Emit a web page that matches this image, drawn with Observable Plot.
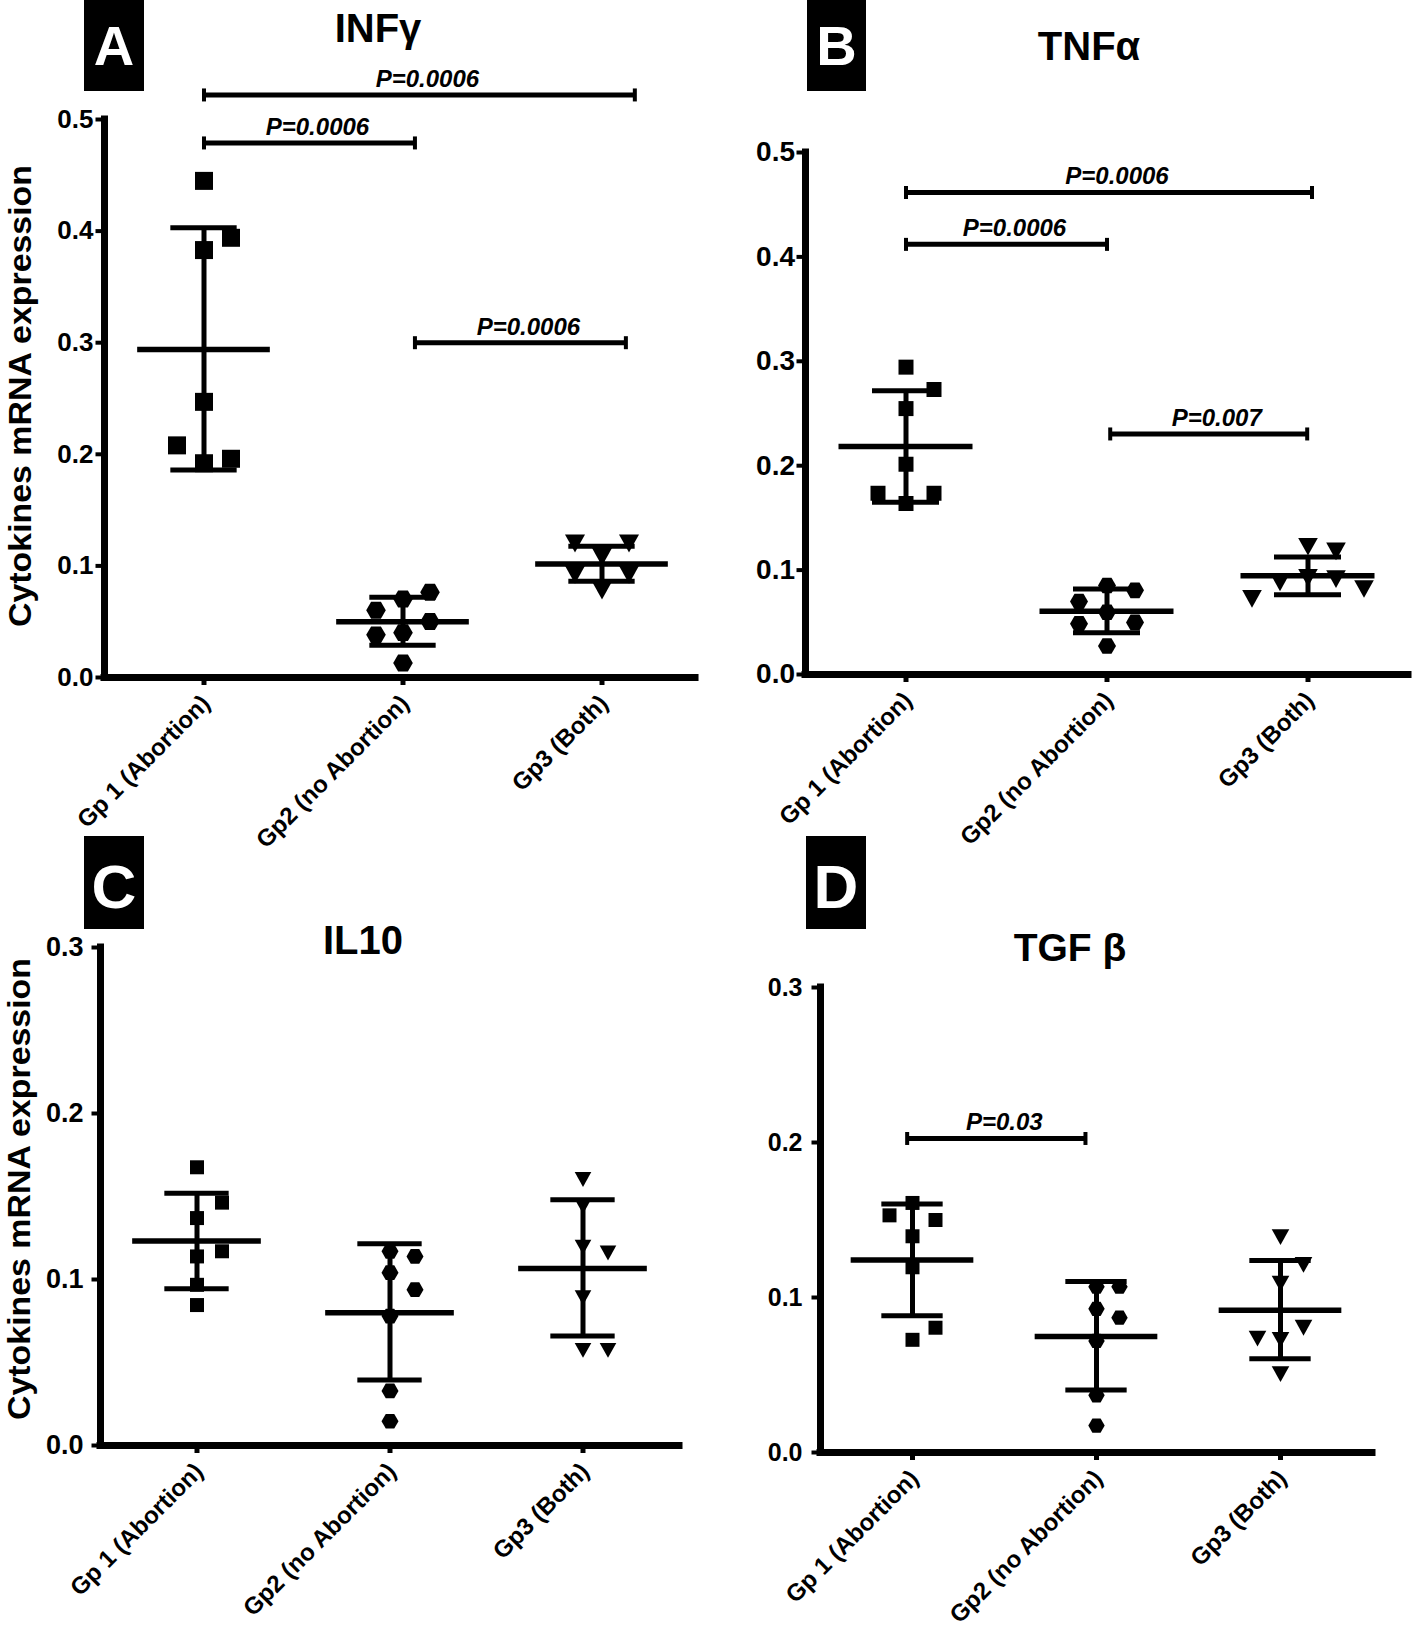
<!DOCTYPE html>
<html><head><meta charset="utf-8">
<script src="https://cdn.jsdelivr.net/npm/d3@7"></script>
<script src="https://cdn.jsdelivr.net/npm/@observablehq/plot@0.6"></script>
<style>
body{margin:0;background:#fff;}
#fig{position:relative;width:1418px;height:1632px;background:#fff;overflow:hidden;}
.panel{position:absolute;}
</style></head><body><div id="fig"></div>
<script>
// ---------- DATA ----------
const groups = ["Gp 1 (Abortion)", "Gp2 (no Abortion)", "Gp3 (Both)"];
const panelLetters = ["A", "B", "C", "D"];
const panelTitles = ["INFγ", "TNFα", "IL10", "TGF β"];
const yAxisTitle = "Cytokines mRNA expression";

// A: INFγ
const infGp1 = [0.445, 0.383, 0.394, 0.247, 0.192, 0.196, 0.208];
const infGp2 = [0.0703, 0.0402, 0.0129, 0.0763, 0.0602, 0.0502, 0.0382];
const infGp3 = [0.108, 0.078, 0.120, 0.120, 0.092, 0.092];
const infMean = [0.294, 0.050, 0.1016];
const infSdLow = [0.186, 0.029, 0.0863];
const infSdHigh = [0.403, 0.072, 0.1177];
const infP = [
  {from: 1, to: 2.06, y: 0.479, label: "P=0.0006"},
  {from: 1, to: 3.165, y: 0.522, label: "P=0.0006"},
  {from: 2.06, to: 3.12, y: 0.300, label: "P=0.0006"}
];

// B: TNFα
const tnfGp1 = [0.2944, 0.2547, 0.273, 0.2014, 0.1638, 0.1736, 0.1736];
const tnfGp2 = [0.0853, 0.0806, 0.070, 0.0597, 0.0499, 0.0486, 0.0273];
const tnfGp3 = [0.1224, 0.118, 0.0926, 0.0913, 0.0883, 0.0819, 0.0725];
const tnfMean = [0.2184, 0.0606, 0.0947];
const tnfSdLow = [0.165, 0.0401, 0.0764];
const tnfSdHigh = [0.2718, 0.0819, 0.1126];
const tnfP = [
  {from: 1, to: 2.0, y: 0.412, label: "P=0.0006"},
  {from: 1, to: 3.02, y: 0.4617, label: "P=0.0006"},
  {from: 2.016, to: 2.996, y: 0.2304, label: "P=0.007"}
];

// C: IL10
const il10Gp1 = [0.1676, 0.137, 0.1463, 0.1139, 0.117, 0.0846, 0.0968];
const il10Gp2 = [0.117, 0.1139, 0.1041, 0.0939, 0.078, 0.0329, 0.0146];
const il10Gp3 = [0.1602, 0.144, 0.1195, 0.116, 0.089, 0.0573, 0.0573];
const il10Mean = [0.1232, 0.080, 0.1066];
const il10SdLow = [0.0944, 0.0395, 0.0659];
const il10SdHigh = [0.152, 0.1215, 0.148];
const il10P = [];

// D: TGF β
const tgfGp1 = [0.161, 0.1395, 0.15, 0.153, 0.1195, 0.0727, 0.0805];
const tgfGp2 = [0.0927, 0.072, 0.0369, 0.0174, 0.107, 0.107, 0.087];
const tgfGp3 = [0.139, 0.109, 0.121, 0.0727, 0.0805, 0.0735, 0.0506];
const tgfMean = [0.1242, 0.0748, 0.0917];
const tgfSdLow = [0.0883, 0.0403, 0.0605];
const tgfSdHigh = [0.1603, 0.1104, 0.1239];
const tgfP = [
  {from: 0.971, to: 1.94, y: 0.2026, label: "P=0.03"}
];

const panelData = [
  {series: [infGp1, infGp2, infGp3], mean: infMean, lo: infSdLow, hi: infSdHigh, pbars: infP, ymax: 0.5},
  {series: [tnfGp1, tnfGp2, tnfGp3], mean: tnfMean, lo: tnfSdLow, hi: tnfSdHigh, pbars: tnfP, ymax: 0.5},
  {series: [il10Gp1, il10Gp2, il10Gp3], mean: il10Mean, lo: il10SdLow, hi: il10SdHigh, pbars: il10P, ymax: 0.3},
  {series: [tgfGp1, tgfGp2, tgfGp3], mean: tgfMean, lo: tgfSdLow, hi: tgfSdHigh, pbars: tgfP, ymax: 0.3}
];

// ---------- LAYOUT / STYLE ----------
const FONT = '"Liberation Sans", Arial, Helvetica, sans-serif';
const layout = [
  {left: 0,   top: 0,   width: 709, height: 816, ml: 104, mr: 8,  mt: 119, mb: 139, xEnd: 3.47, tickFont: 26, tickPad: 2.5, r: [9, 9.8, 10],    colPx: 27},
  {left: 709, top: 0,   width: 709, height: 816, ml: 96,  mr: 10, mt: 152, mb: 142, xEnd: 3.5,  tickFont: 28, tickPad: 2,   r: [7.5, 9, 9.8],   colPx: 28},
  {left: 0,   top: 816, width: 709, height: 816, ml: 100, mr: 30, mt: 131, mb: 187, xEnd: 3.5,  tickFont: 27, tickPad: 8.5, r: [7, 8.5, 8.3],   colPx: 25},
  {left: 709, top: 816, width: 709, height: 816, ml: 111, mr: 46, mt: 171, mb: 180, xEnd: 3.5,  tickFont: 25, tickPad: 9.5, r: [7, 8.2, 8.8],   colPx: 23}
];

// custom symbols (r = sqrt(size/PI))
const symSquare = {draw(ctx, size) { const r = Math.sqrt(size / Math.PI); ctx.moveTo(-r, -r); ctx.lineTo(r, -r); ctx.lineTo(r, r); ctx.lineTo(-r, r); ctx.closePath(); }};
const symHex = {draw(ctx, size) { const r = Math.sqrt(size / Math.PI); for (let k = 0; k < 6; k++) { const a = k * Math.PI / 3; const x = r * Math.cos(a), y = r * Math.sin(a); if (k) ctx.lineTo(x, y); else ctx.moveTo(x, y); } ctx.closePath(); }};
const symTri = {draw(ctx, size) { const r = Math.sqrt(size / Math.PI); const h = 0.9 * r; ctx.moveTo(-r, -h); ctx.lineTo(r, -h); ctx.lineTo(0, h); ctx.closePath(); }};
const symV = {draw(ctx, size) { const r = Math.sqrt(size / Math.PI); ctx.moveTo(0, -r); ctx.lineTo(0, r); }};
const symbols = [symSquare, symHex, symTri];
const symHeightFactor = [2, 1.732, 1.8];

// deterministic dodge: put each point in the most central free column
function dodge(values, thresh) {
  const order = [0, 1, -1, 2, -2, 3, -3];
  const placed = [];
  return values.map(v => {
    for (const c of order) {
      if (!placed.some(p => p.c === c && Math.abs(p.v - v) < thresh)) { placed.push({v, c}); return c; }
    }
    return 0;
  });
}

const fig = document.getElementById("fig");

panelData.forEach((pd, pi) => {
  const L = layout[pi];
  const pxPerUnit = (L.height - L.mt - L.mb) / pd.ymax;
  const step = (L.width - L.ml - L.mr) / 3;
  const colUnit = L.colPx / step;

  const pts = [];
  pd.series.forEach((vals, gi) => {
    const hPx = symHeightFactor[gi] * L.r[gi];
    const cols = dodge(vals, 1.3 * hPx / pxPerUnit);
    vals.forEach((v, i) => pts.push({g: gi + 1, x: gi + 1 + cols[i] * colUnit, v, s: gi}));
  });
  const stats = pd.mean.map((m, i) => ({g: i + 1, mean: m, lo: pd.lo[i], hi: pd.hi[i]}));
  const labels = groups.map((name, i) => ({g: i + 1, name, y0: 0}));
  const caps = pd.pbars.flatMap(d => [{x: d.from, y: d.y}, {x: d.to, y: d.y}]);

  const marks = [
    // axes lines
    Plot.ruleY([0], {x1: 0.5, x2: L.xEnd, strokeWidth: 7, strokeLinecap: "square"}),
    Plot.ruleX([0.5], {y1: 0, y2: pd.ymax, strokeWidth: 7, strokeLinecap: "square"}),
    Plot.axisY({ticks: d3.range(0, pd.ymax + 1e-9, 0.1), tickSize: 8.5, tickPadding: L.tickPad, strokeWidth: 4,
                tickFormat: d3.format(".1f"), label: null, fontSize: L.tickFont, fontWeight: "bold"}),
    Plot.axisX({ticks: [1, 2, 3], tickSize: 8, strokeWidth: 5, tickFormat: () => "", label: null}),
    Plot.text(labels, {x: "g", y: "y0", text: "name", rotate: -45, textAnchor: "end", lineAnchor: "middle",
                       dx: 2, dy: 22, fontSize: 24, fontWeight: "bold"}),
    // points
    ...symbols.map((sym, si) => Plot.dot(pts.filter(p => p.s === si), {x: "x", y: "v", symbol: sym, r: L.r[si], fill: "black", stroke: "none"})),
    // mean ± SD
    Plot.ruleX(stats, {x: "g", y1: "lo", y2: "hi", strokeWidth: 5}),
    Plot.ruleY(stats, {y: "hi", x1: d => d.g - 1 / 6, x2: d => d.g + 1 / 6, strokeWidth: 5}),
    Plot.ruleY(stats, {y: "lo", x1: d => d.g - 1 / 6, x2: d => d.g + 1 / 6, strokeWidth: 5}),
    Plot.ruleY(stats, {y: "mean", x1: d => d.g - 1 / 3, x2: d => d.g + 1 / 3, strokeWidth: 5.5}),
    // significance bars
    Plot.ruleY(pd.pbars, {y: "y", x1: "from", x2: "to", strokeWidth: 5}),
    Plot.dot(caps, {x: "x", y: "y", symbol: symV, r: 6.5, stroke: "black", strokeWidth: 4, fill: "none"}),
    Plot.text(pd.pbars, {x: d => (d.from + d.to) / 2, y: "y", text: "label", dx: 8, dy: -8, lineAnchor: "bottom",
                         fontSize: 24, fontWeight: "bold", fontStyle: "italic"})
  ];

  const svg = Plot.plot({
    width: L.width, height: L.height,
    marginLeft: L.ml, marginRight: L.mr, marginTop: L.mt, marginBottom: L.mb,
    x: {type: "linear", domain: [0.5, 3.5]},
    y: {type: "linear", domain: [0, pd.ymax]},
    style: {fontFamily: FONT, fontWeight: "bold", fontSize: "25px", color: "#000", background: "transparent", overflow: "visible"},
    marks
  });
  const div = document.createElement("div");
  div.className = "panel";
  div.style.left = L.left + "px";
  div.style.top = L.top + "px";
  div.appendChild(svg);
  fig.appendChild(div);
});

// ---------- overlay: panel letters, titles, y-axis titles ----------
const boxes = [{x: 84, y: 0, w: 60, h: 91, fs: 56, base: 65}, {x: 807, y: 0, w: 59, h: 91, fs: 56, base: 65},
               {x: 84, y: 836, w: 60, h: 93, fs: 62, base: 908}, {x: 806, y: 836, w: 60, h: 93, fs: 62, base: 908}];
const titlePos = [{x: 378, y: 42, fs: 40}, {x: 1089, y: 60, fs: 40}, {x: 363, y: 954, fs: 40}, {x: 1070, y: 961, fs: 39}];
const yTitlePos = [{x: 31, y: 396}, {x: 30, y: 1189}];

const ov = d3.select(fig).append("svg")
  .attr("width", 1418).attr("height", 1632)
  .style("position", "absolute").style("left", "0px").style("top", "0px")
  .style("pointer-events", "none").style("font-family", FONT).style("font-weight", "bold");

panelLetters.forEach((t, i) => {
  const b = boxes[i];
  ov.append("rect").attr("x", b.x).attr("y", b.y).attr("width", b.w).attr("height", b.h).attr("fill", "#000");
  ov.append("text").attr("x", b.x + b.w / 2).attr("y", b.base).attr("text-anchor", "middle")
    .attr("font-size", b.fs).attr("fill", "#fff").text(t);
});
panelTitles.forEach((t, i) => {
  const p = titlePos[i];
  ov.append("text").attr("x", p.x).attr("y", p.y).attr("text-anchor", "middle").attr("font-size", p.fs).attr("fill", "#000").text(t);
});
yTitlePos.forEach(p => {
  ov.append("text").attr("transform", `translate(${p.x},${p.y}) rotate(-90)`).attr("text-anchor", "middle")
    .attr("font-size", 32).attr("textLength", 462).attr("lengthAdjust", "spacingAndGlyphs")
    .attr("fill", "#000").text(yAxisTitle);
});
</script></body></html>
